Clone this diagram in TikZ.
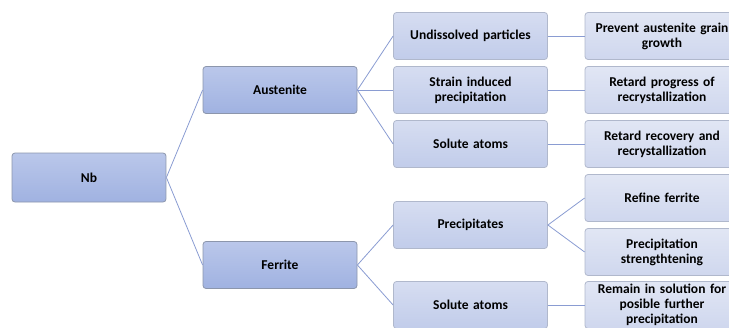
\documentclass[tikz,border=0pt]{standalone}
\usepackage{fontspec}
\setmainfont{Carlito}
\usepackage{tikz}
\definecolor{linkblue}{RGB}{138,156,210}
\definecolor{rootTop}{RGB}{186,199,234}
\definecolor{rootBot}{RGB}{160,178,225}
\definecolor{midTop}{RGB}{214,221,241}
\definecolor{midBot}{RGB}{193,204,234}
\definecolor{leafTop}{RGB}{225,230,244}
\definecolor{leafBot}{RGB}{207,215,238}
\definecolor{darkrim}{RGB}{140,150,172}
\definecolor{lightrim}{RGB}{176,184,204}
\begin{document}
\begin{tikzpicture}[x=1pt,y=-1pt,
	box/.style={rounded corners=3pt, minimum width=154pt, minimum height=47pt,
		text width=152pt, align=center, inner sep=1pt, line width=0.8pt,
		font=\bfseries\fontsize{13.5}{15}\selectfont},
	rootbox/.style={box, draw=darkrim, top color=rootTop, bottom color=rootBot},
	midbox/.style={box, draw=lightrim, top color=midTop, bottom color=midBot},
	leafbox/.style={box, draw=lightrim, top color=leafTop, bottom color=leafBot},
	link/.style={draw=linkblue, line width=0.8pt}]
	\useasboundingbox (0,0) rectangle (729,327);
	\node [rootbox, minimum height=49pt] (nb) at (89,177.5) {Nb};
	\node [rootbox] (aus) at (280,90) {Austenite};
	\node [rootbox] (fer) at (280,265) {Ferrite};
	\node [midbox] (undis) at (470.5,36) {Undissolved particles};
	\node [midbox] (strain) at (470.5,90) {Strain induced\\precipitation};
	\node [midbox] (soluteA) at (470.5,144) {Solute atoms};
	\node [midbox] (precip) at (470.5,225) {Precipitates};
	\node [midbox] (soluteF) at (470.5,305) {Solute atoms};
	\node [leafbox] (prevent) at (662,36) {Prevent austenite grain\\growth};
	\node [leafbox] (retprog) at (662,90) {Retard progress of\\recrystallization};
	\node [leafbox] (retrec) at (662,144) {Retard recovery and\\recrystallization};
	\node [leafbox] (refine) at (662,198) {Refine ferrite};
	\node [leafbox] (pstrength) at (662,252) {Precipitation\\strengthtening};
	\node [leafbox] (remain) at (662,305) {Remain in solution for\\posible further\\precipitation};
	\draw [link] (nb.east) -- (aus.west);
	\draw [link] (nb.east) -- (fer.west);
	\draw [link] (aus.east) -- (undis.west);
	\draw [link] (aus.east) -- (strain.west);
	\draw [link] (aus.east) -- (soluteA.west);
	\draw [link] (fer.east) -- (precip.west);
	\draw [link] (fer.east) -- (soluteF.west);
	\draw [link] (undis.east) -- (prevent.west);
	\draw [link] (strain.east) -- (retprog.west);
	\draw [link] (soluteA.east) -- (retrec.west);
	\draw [link] (precip.east) -- (refine.west);
	\draw [link] (precip.east) -- (pstrength.west);
	\draw [link] (soluteF.east) -- (remain.west);
\end{tikzpicture}
\end{document}
